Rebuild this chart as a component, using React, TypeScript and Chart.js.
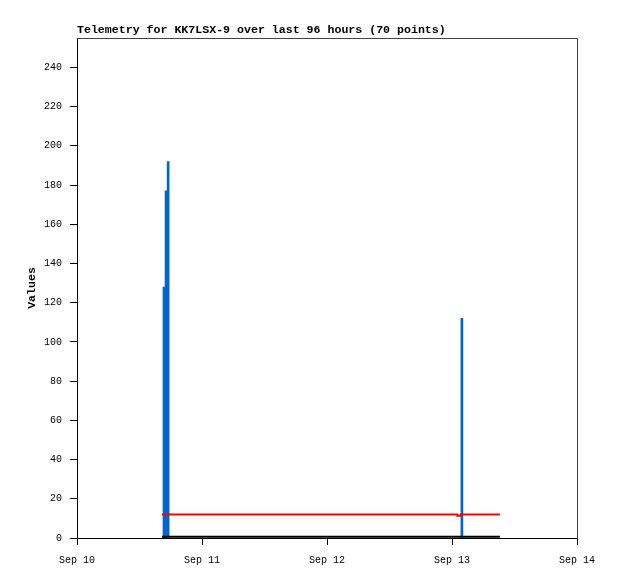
import React, { useEffect, useRef } from "react";
import { Chart, registerables } from "chart.js";

Chart.register(...registerables);

const TITLE = "Telemetry for KK7LSX-9 over last 96 hours (70 points)";
const Y_TITLE = "Values";

// x in hours since Sep 10 00:00
const X_TICK_HOURS = [0, 24, 48, 72, 96];
const X_TICK_LABELS = ["Sep 10", "Sep 11", "Sep 12", "Sep 13", "Sep 14"];

const blueHours = [16.7, 17.1, 17.5, 73.9];
const blueValues = [128, 177, 192, 112];

const redHours = [16.3, 73.0, 73.02, 73.65, 73.67, 81.2];
const redValues = [12, 12, 11.4, 11.4, 12, 12];

const blackHours = [16.3, 81.2];
const blackValues = [0.6, 0.6];

const Y_MIN = 0;
const Y_MAX = 255;
const Y_STEP = 20;

const MONO = "'Liberation Mono', 'DejaVu Sans Mono', monospace";

const framePlugin = {
  id: "frameBox",
  afterDraw(chart: any) {
    const { ctx, chartArea } = chart;
    const { left, right, top } = chartArea;
    ctx.save();
    ctx.strokeStyle = "#444444";
    ctx.lineWidth = 1;
    ctx.beginPath();
    ctx.moveTo(Math.round(left) + 0.5, Math.round(top) + 0.5);
    ctx.lineTo(Math.round(right) + 0.5, Math.round(top) + 0.5);
    ctx.lineTo(Math.round(right) + 0.5, Math.round(chartArea.bottom) + 0.5);
    ctx.stroke();
    ctx.restore();
  },
};

const whiteBg = {
  id: "whiteBg",
  beforeDraw(chart: any) {
    const { ctx, width, height } = chart;
    ctx.save();
    ctx.fillStyle = "#ffffff";
    ctx.fillRect(0, 0, width, height);
    ctx.restore();
  },
};

export default function App() {
  const ref = useRef<HTMLCanvasElement | null>(null);

  useEffect(() => {
    if (!ref.current) return;
    const chart = new Chart(ref.current, {
      type: "line",
      data: {
        datasets: [
          {
            type: "line",
            label: "red",
            data: redHours.map((x, i) => ({ x, y: redValues[i] })),
            borderColor: "#ff0000",
            borderWidth: 2,
            pointRadius: 0,
            fill: false,
            tension: 0,
            borderJoinStyle: "miter",
          },
          {
            type: "line",
            label: "black",
            data: blackHours.map((x, i) => ({ x, y: blackValues[i] })),
            borderColor: "#000000",
            borderWidth: 2,
            pointRadius: 0,
            fill: false,
            tension: 0,
          },
          {
            type: "bar",
            label: "blue",
            data: blueHours.map((x, i) => ({ x, y: blueValues[i] })),
            backgroundColor: "#0066cc",
            borderWidth: 0,
            barThickness: 2,
            grouped: false,
          } as any,
        ],
      },
      options: {
        responsive: false,
        animation: false,
        layout: { padding: { left: 0, right: 41, top: 0, bottom: 0 } },
        plugins: {
          legend: { display: false },
          tooltip: { enabled: false },
          title: {
            display: true,
            text: TITLE,
            align: "start",
            fullSize: false,
            color: "#000000",
            font: { family: MONO, size: 11.6, weight: "bold", lineHeight: "12px" },
            padding: { top: 24, bottom: 2 },
          },
        },
        scales: {
          x: {
            type: "linear",
            min: 0,
            max: 96,
            offset: false,
            afterFit: (s: any) => {
              s.height = 41;
            },
            afterBuildTicks: (s: any) => {
              s.ticks = X_TICK_HOURS.map((v) => ({ value: v }));
            },
            ticks: {
              color: "#000000",
              font: { family: MONO, size: 10 },
              padding: 9,
              maxRotation: 0,
              autoSkip: false,
              callback: (v: any) => {
                const i = X_TICK_HOURS.indexOf(Number(v));
                return i >= 0 ? X_TICK_LABELS[i] : "";
              },
            },
            grid: {
              display: true,
              drawOnChartArea: false,
              drawTicks: true,
              tickLength: 7,
              color: "#000000",
              offset: false,
            },
            border: { display: true, color: "#000000", width: 1 },
          },
          y: {
            type: "linear",
            min: Y_MIN,
            max: Y_MAX,
            afterFit: (s: any) => {
              s.width = 77;
            },
            ticks: {
              stepSize: Y_STEP,
              includeBounds: false,
              color: "#000000",
              font: { family: MONO, size: 10 },
              padding: 8,
            },
            grid: {
              display: true,
              drawOnChartArea: false,
              drawTicks: true,
              tickLength: 7,
              color: "#000000",
            },
            border: { display: true, color: "#000000", width: 1 },
            title: {
              display: true,
              text: Y_TITLE,
              color: "#000000",
              font: { family: MONO, size: 11.6, weight: "bold" },
              padding: { top: 25, bottom: 0 },
            },
          },
        },
      },
      plugins: [whiteBg, framePlugin],
    });
    return () => chart.destroy();
  }, []);

  return (
    <div style={{ position: "fixed", left: 0, top: 0, width: 618, height: 579, background: "#fff" }}>
      <canvas ref={ref} width={618} height={579} style={{ display: "block" }} />
    </div>
  );
}
